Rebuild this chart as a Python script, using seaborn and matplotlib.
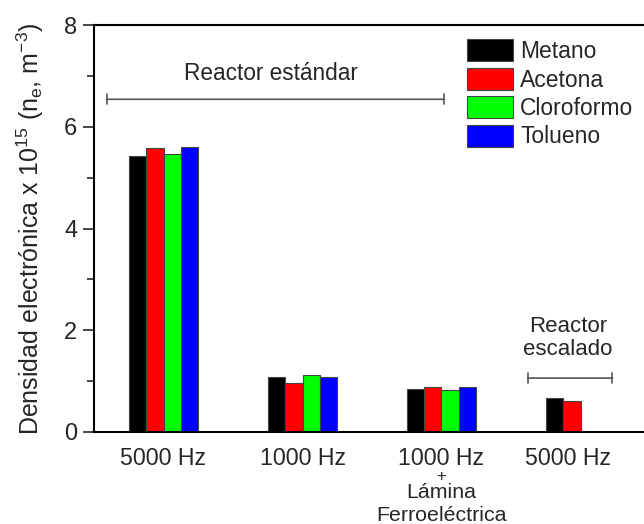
import pandas as pd
import matplotlib
matplotlib.use('Agg')
import matplotlib.pyplot as plt
import matplotlib.transforms as mtransforms
import seaborn as sns

groups = ['5000 Hz', '1000 Hz', '1000 Hz\n+\nLámina\nFerroeléctrica', '5000 Hz ']
gases = ['Metano', 'Acetona', 'Cloroformo', 'Tolueno']
colors = ['#000000', '#ff0000', '#00ff00', '#0000ff']

metano = [5.43, 1.09, 0.85, 0.66]
acetona = [5.58, 0.96, 0.88, 0.60]
cloroformo = [5.46, 1.13, 0.83, None]
tolueno = [5.61, 1.09, 0.88, None]

rows = []
for gas, vals in zip(gases, [metano, acetona, cloroformo, tolueno]):
    for g, v in zip(groups, vals):
        if v is not None:
            rows.append({'Grupo': g, 'Gas': gas, 'Valor': v})
data = pd.DataFrame(rows)

sns.set_style('ticks')
plt.rcParams['font.family'] = ['Liberation Sans', 'DejaVu Sans']
plt.rcParams['mathtext.fontset'] = 'custom'
plt.rcParams['mathtext.rm'] = 'Liberation Sans'
plt.rcParams['mathtext.it'] = 'Liberation Sans:italic'

fig = plt.figure(figsize=(6.44, 5.24), dpi=100)
ax = fig.add_axes([94 / 644, 1 - 432 / 524, 556 / 644, 407 / 524])

sns.barplot(data=data, x='Grupo', y='Valor', hue='Gas', order=groups, hue_order=gases,
            palette=colors, saturation=1, width=0.5, edgecolor='#444444', linewidth=0.8, ax=ax)

ax.set_xlim(-0.5, 3.5)
ax.set_ylim(0, 8)
ax.set_yticks([0, 2, 4, 6, 8])
ax.set_yticks([1, 3, 5, 7], minor=True)
ax.tick_params(axis='y', which='major', length=8, width=1.2, labelsize=17, direction='out', pad=4)
ax.tick_params(axis='y', which='minor', length=5, width=1.2, direction='out')

# first line as tick label, the rest of the multi-line label drawn underneath
ax.set_xticks(range(len(groups)))
ax.set_xticklabels([g.split('\n')[0] for g in groups])
ax.tick_params(axis='x', length=0, labelsize=16.7, pad=11)
labs = ax.get_xticklabels()
labs[3].set_transform(labs[3].get_transform() + mtransforms.ScaledTranslation(-0.09, 0, fig.dpi_scale_trans))

trans = mtransforms.blended_transform_factory(ax.transData, fig.transFigure)
extra = groups[2].split('\n')[1:]
ax.text(2, 1 - 476 / 524, extra[0], transform=trans, ha='center', va='center', fontsize=12)
ax.text(2, 1 - 497.7 / 524, extra[1], transform=trans, ha='center', va='baseline', fontsize=15.4)
ax.text(2, 1 - 521 / 524, extra[2], transform=trans, ha='center', va='baseline', fontsize=15.4)

for s in ax.spines.values():
    s.set_linewidth(1.5)
    s.set_color('black')

ax.set_xlabel('')
ax.set_ylabel('Densidad electrónica x 10$^{15}$ (n$_\\mathregular{e}$, m$^{-3}$)', fontsize=18, labelpad=13)

ax.annotate('', xy=(-0.41, 6.54), xytext=(2.02, 6.54),
            arrowprops=dict(arrowstyle='|-|, widthA=0.35, widthB=0.35', color='#555555', lw=1.2,
                            shrinkA=0, shrinkB=0))
ax.text(0.77, 7.05, 'Reactor estándar', ha='center', va='center', fontsize=16.3)
ax.annotate('', xy=(2.62, 1.06), xytext=(3.23, 1.06),
            arrowprops=dict(arrowstyle='|-|, widthA=0.35, widthB=0.35', color='#555555', lw=1.2,
                            shrinkA=0, shrinkB=0))
ax.text(2.91, 1.85, 'Reactor\nescalado', ha='center', va='center', fontsize=16, linespacing=1.15)

ax.legend(loc='upper left', bbox_to_anchor=((456 - 94) / 556, (432 - 28) / 407),
          frameon=False, fontsize=16.5, handlelength=2.0, handleheight=1.1,
          labelspacing=0.2, handletextpad=0.3, borderpad=0)

fig.savefig('out.png', dpi=100)
